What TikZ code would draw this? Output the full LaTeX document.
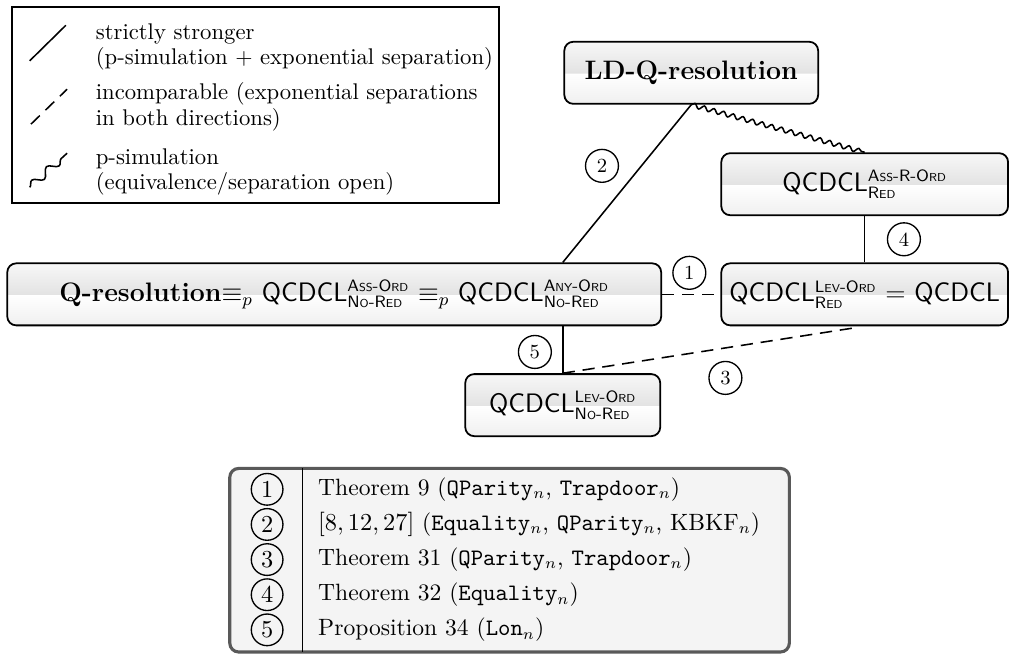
\documentclass[tikz,border=0pt]{standalone}
\usetikzlibrary{decorations.pathmorphing}

\pgfdeclareverticalshading{boxshade}{100bp}{color(0bp)=(gray!12); color(25bp)=(gray!12); color(49.5bp)=(white); color(50bp)=(gray!22); color(75bp)=(gray!6); color(100bp)=(gray!6)}
\newcommand{\sml}[1]{{\fontsize{5.2}{6}\selectfont #1}}
\newcommand{\qcdcl}[2]{\textsf{QCDCL}$^{\mbox{\sffamily\fontsize{7.4}{8}\selectfont #1}}_{\mbox{\sffamily\fontsize{7.4}{8}\selectfont #2}}$}

\begin{document}
\begin{tikzpicture}[
  qbox/.style={draw, thick, rounded corners=4pt, shading=boxshade, minimum height=0.98cm, font=\large, inner xsep=2pt},
  num/.style={draw, circle, semithick, minimum size=0.52cm, inner sep=0pt, font=\fontsize{9}{11}\selectfont},
  tnum/.style={draw, circle, semithick, minimum size=0.5cm, inner sep=0pt, font=\fontsize{10.95}{13}\selectfont},
  trow/.style={anchor=west, inner sep=0pt, text height=1.7ex, text depth=0.5ex, font=\fontsize{10.6}{13}\selectfont},
  rel/.style={line width=0.7pt},
  incomp/.style={line width=0.7pt, dash pattern=on 5.5pt off 3.5pt},
  psim/.style={line width=0.7pt, decorate, decoration={snake, segment length=4.5pt, amplitude=1pt}}
]
\useasboundingbox (0,0) rectangle (15.94,10.35);

% legend
\draw [black, line width=1.1pt] (0.19,7.14) rectangle (7.88,10.24);
\draw [rel] (0.47,9.39) -- (1.04,9.95);
\draw [incomp] (0.49,8.39) -- (1.06,8.94);
\draw [line width=0.7pt, decorate, decoration={snake, segment length=9pt, amplitude=1.8pt}] (0.47,7.39) -- (1.06,7.93);
\node (lg1) [anchor=west, align=left, font=\fontsize{10.2}{11.4}\selectfont] at (1.39,9.61) {strictly stronger\\(p-simulation $+$ exponential separation)};
\node (lg2) [anchor=west, align=left, font=\fontsize{10.2}{11.4}\selectfont] at (1.39,8.66) {incomparable (exponential separations\\in both directions)};
\node (lg3) [anchor=west, align=left, font=\fontsize{10.2}{11.4}\selectfont] at (1.39,7.63) {p-simulation\\(equivalence/separation open)};

% systems
\node (ld) [qbox, minimum width=4.01cm] at (10.92,9.20) {\textbf{LD-Q-resolution}};
\node (assr) [qbox, minimum width=4.53cm] at (13.66,7.44) {\qcdcl{A\sml{SS}-R-O\sml{RD}}{R\sml{ED}}};
\node (levred) [qbox, minimum width=4.53cm] at (13.66,5.70) {\qcdcl{L\sml{EV}-O\sml{RD}}{R\sml{ED}} $=$ \textsf{QCDCL}};
\node (qres) [qbox, minimum width=10.33cm] at (5.28,5.70) {\textbf{Q-resolution}$\equiv_p$ \qcdcl{A\sml{SS}-O\sml{RD}}{N\sml{O}-R\sml{ED}} $\equiv_p$ \qcdcl{A\sml{NY}-O\sml{RD}}{N\sml{O}-R\sml{ED}}};
\node (nored) [qbox, minimum width=3.08cm] at (8.89,3.95) {\qcdcl{L\sml{EV}-O\sml{RD}}{N\sml{O}-R\sml{ED}}};

% relations
\draw [rel] (ld.south) -- (qres.north -| nored.north);
\draw [psim] (ld.south) -- (assr.north);
\draw [rel] (assr.south) -- (levred.north);
\draw [incomp] (qres.east) -- (levred.west);
\draw [rel] (nored.north) -- (qres.south -| nored.north);
\draw [incomp, shorten >=3pt] (nored.north) -- (levred.south);
\node (n1) [num] at (10.89,6.04) {1};
\node (n2) [num] at (9.51,7.73) {2};
\node (n3) [num] at (11.46,4.38) {3};
\node (n4) [num] at (14.28,6.57) {4};
\node (n5) [num] at (8.45,4.79) {5};

% references
\draw [rounded corners=4pt, line width=1.4pt, draw=gray!70!black, fill=gray!9] (3.63,0.05) rectangle (12.47,2.95);
\draw [black] (4.77,2.95) -- (4.77,0.05);
\node (t1) [tnum] at (4.22,2.62) {1};
\node (t2) [tnum] at (4.22,2.065) {2};
\node (t3) [tnum] at (4.22,1.51) {3};
\node (t4) [tnum] at (4.22,0.955) {4};
\node (t5) [tnum] at (4.22,0.40) {5};
\node (r1) [trow] at (5.02,2.62) {Theorem 9 (\texttt{QParity}$_n$, \texttt{Trapdoor}$_n$)};
\node (r2) [trow] at (5.02,2.065) {$[8,12,27]$ (\texttt{Equality}$_n$, \texttt{QParity}$_n$, KBKF$_n$)};
\node (r3) [trow] at (5.02,1.51) {Theorem 31 (\texttt{QParity}$_n$, \texttt{Trapdoor}$_n$)};
\node (r4) [trow] at (5.02,0.955) {Theorem 32 (\texttt{Equality}$_n$)};
\node (r5) [trow] at (5.02,0.40) {Proposition 34 (\texttt{Lon}$_n$)};
\end{tikzpicture}
\end{document}
